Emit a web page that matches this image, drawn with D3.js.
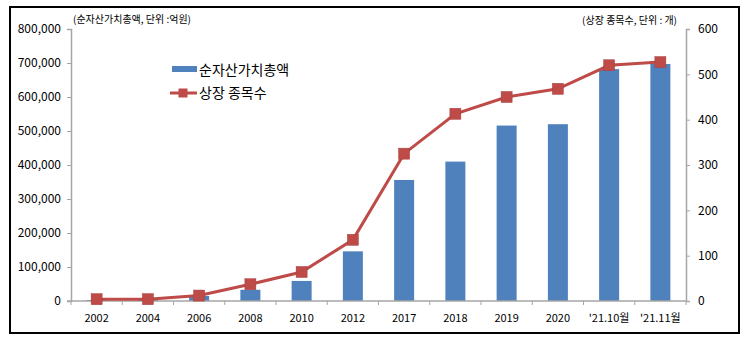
<!DOCTYPE html>
<html><head><meta charset="utf-8">
<script src="https://cdn.jsdelivr.net/npm/d3@7"></script>
<style>
body{margin:0;background:#fff;}
text{font-family:"Noto Sans CJK KR","Noto Sans",sans-serif;}
</style></head>
<body><svg id="c" width="750" height="340"></svg>
<script>
const categories = ["2002","2004","2006","2008","2010","2012","2017","2018","2019","2020","'21.10월","'21.11월"];
const netAssets = [3000, 3400, 15000, 33000, 59000, 146000, 356000, 410000, 516000, 520000, 682000, 697000];
const listedCount = [4, 4, 12, 37, 64, 135, 325, 413, 450, 468, 520, 527];
const leftTicks = [0,100000,200000,300000,400000,500000,600000,700000,800000];
const rightTicks = [0,100,200,300,400,500,600];
const seriesNames = ["순자산가치총액","상장 종목수"];

const svg = d3.select("#c");
const pLeft = 71, pRight = 686, pTop = 29, pBottom = 301;
const blue = "#4f81bd", red = "#be4b48", axisCol = "#a6a6a6";

svg.append("rect").attr("x",10).attr("y",7).attr("width",729).attr("height",326)
  .attr("fill","none").attr("stroke","#000").attr("stroke-width",2);

const xb = d3.scaleBand().domain(categories).range([pLeft,pRight]);
const yL = d3.scaleLinear().domain([0,800000]).range([pBottom,pTop]);
const yR = d3.scaleLinear().domain([0,600]).range([pBottom,pTop]);

// bars
svg.append("g").selectAll("rect").data(netAssets).join("rect")
  .attr("x",(d,i)=>xb(categories[i])+xb.bandwidth()/2-10)
  .attr("width",20)
  .attr("y",d=>yL(d)).attr("height",d=>yL(0)-yL(d)).attr("fill",blue);

// axes
const fmt = d3.format(",");
const gL = svg.append("g").attr("transform",`translate(${pLeft},0)`)
  .call(d3.axisLeft(yL).tickValues(leftTicks).tickFormat(fmt).tickSize(4).tickPadding(6));
const gR = svg.append("g").attr("transform",`translate(${pRight},0)`)
  .call(d3.axisRight(yR).tickValues(rightTicks).tickSize(4).tickPadding(8));
[gL,gR].forEach(g=>{
  g.select(".domain").attr("stroke",axisCol).attr("stroke-width",1.5);
  g.selectAll(".tick line").attr("stroke",axisCol);
  g.selectAll("text").attr("font-size",12).attr("fill","#000").attr("font-family","Lato,'Noto Sans CJK KR',sans-serif");
});

// x axis
const gX = svg.append("g").attr("transform",`translate(0,${pBottom})`);
gX.append("line").attr("x1",pLeft-4).attr("x2",pRight).attr("stroke",axisCol).attr("stroke-width",1.5);
gX.selectAll("line.t").data(categories.concat(["end"])).join("line").attr("class","t")
  .attr("x1",(d,i)=>pLeft+i*xb.bandwidth()).attr("x2",(d,i)=>pLeft+i*xb.bandwidth())
  .attr("y1",0).attr("y2",4).attr("stroke",axisCol);
gX.selectAll("text").data(categories).join("text")
  .attr("x",d=>xb(d)+xb.bandwidth()/2).attr("y",21)
  .attr("text-anchor","middle").attr("font-size",11)
  .attr("font-family","Lato,'Noto Sans CJK KR',sans-serif")
  .text(d=>d);

// line
const line = d3.line().x((d,i)=>xb(categories[i])+xb.bandwidth()/2).y(d=>yR(d));
svg.append("path").datum(listedCount).attr("d",line).attr("fill","none").attr("stroke",red).attr("stroke-width",3);
svg.append("g").selectAll("rect").data(listedCount).join("rect")
  .attr("x",(d,i)=>xb(categories[i])+xb.bandwidth()/2-5.5).attr("y",d=>yR(d)-5.5)
  .attr("width",11).attr("height",11).attr("fill",red).attr("stroke","#a33f3c").attr("stroke-width",0.5);

// unit labels
svg.append("text").attr("x",73).attr("y",23).attr("font-size",10).text("(순자산가치총액, 단위 :억원)");
svg.append("text").attr("x",677).attr("y",24).attr("text-anchor","end").attr("font-size",10).text("(상장 종목수, 단위 : 개)");

// legend
svg.append("rect").attr("x",172).attr("y",66).attr("width",25).attr("height",6).attr("fill",blue);
svg.append("text").attr("x",199).attr("y",75).attr("font-size",14).text(seriesNames[0]);
svg.append("line").attr("x1",170).attr("x2",197).attr("y1",93).attr("y2",93).attr("stroke",red).attr("stroke-width",3);
svg.append("rect").attr("x",178.5).attr("y",88.5).attr("width",9).attr("height",9).attr("fill",red);
svg.append("text").attr("x",199).attr("y",98).attr("font-size",14).text(seriesNames[1]);
</script></body></html>
